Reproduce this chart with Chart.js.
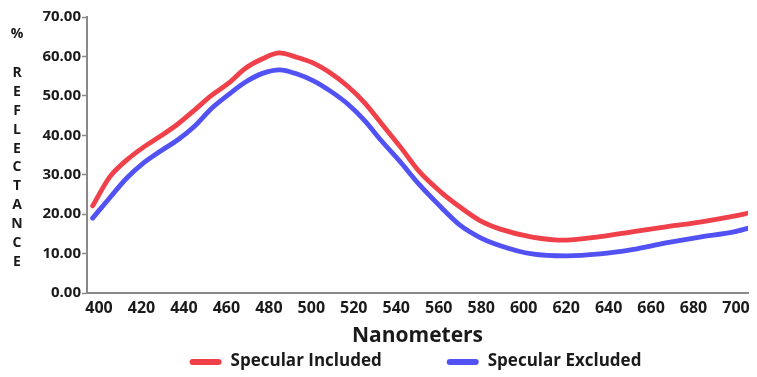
<!DOCTYPE html>
<html>
<head>
<meta charset="utf-8">
<script src="https://cdn.jsdelivr.net/npm/chart.js@4"></script>
<style>
  body { margin: 0; background: #fff; }
  #wrap { width: 757px; height: 377px; position: relative; }
</style>
</head>
<body>
<div id="wrap"><canvas id="myChart"></canvas></div>
<script>
// wavelengths (nm)
var nanometers = [397, 405, 413, 421, 429, 437, 445, 453, 461, 469, 477, 485, 493, 501, 509, 517,
  525, 533, 542, 551, 561, 570, 579, 589, 604, 620, 636, 651, 667, 683, 699, 706];
var specularIncluded = [22.1, 29.4, 33.7, 37.0, 39.8, 42.8, 46.4, 50.1, 53.2, 57.0, 59.4, 60.9, 59.8, 58.3, 55.8, 52.5,
  48.3, 43.0, 37.0, 30.7, 25.6, 21.8, 18.5, 16.2, 14.2, 13.4, 14.3, 15.5, 16.8, 18.0, 19.5, 20.3];
var specularExcluded = [19.0, 24.1, 29.1, 33.0, 36.0, 38.8, 42.3, 46.8, 50.3, 53.5, 55.7, 56.6, 55.6, 53.8, 51.2, 48.0,
  43.8, 38.6, 33.2, 27.4, 21.8, 17.2, 14.2, 12.0, 9.9, 9.4, 9.9, 11.0, 12.7, 14.2, 15.5, 16.5];
var xTicks = [400, 420, 440, 460, 480, 500, 520, 540, 560, 580, 600, 620, 640, 660, 680, 700];
var yTitle = ['%', '', 'R', 'E', 'F', 'L', 'E', 'C', 'T', 'A', 'N', 'C', 'E'];

var FONT = '"Open Sans", "DejaVu Sans", sans-serif';
var RED = '#f0404a';
var BLUE = '#5252f4';

function toPoints(xs, ys) {
  return xs.map(function (x, i) { return { x: x, y: ys[i] }; });
}

// stacked letters on the left + legend under the axis title
var extras = {
  id: 'extras',
  afterDraw: function (chart) {
    var c = chart.ctx;
    c.save();
    c.fillStyle = '#1a1a1a';
    c.textAlign = 'center';
    c.textBaseline = 'middle';
    c.font = 'bold 14px ' + FONT;
    var y = 34;
    yTitle.forEach(function (ch, i) {
      if (i === 0) { c.fillText(ch, 17, y); y = 73; return; }
      if (ch === '') return;
      c.fillText(ch, 17, y);
      y += 18.9;
    });

    // legend
    c.font = 'bold 17px ' + FONT;
    c.textAlign = 'left';
    var sets = chart.data.datasets;
    var sample = 32, gap = 9, itemGap = 65;
    var total = 0;
    sets.forEach(function (ds, i) {
      total += sample + gap + c.measureText(ds.label).width;
      if (i > 0) total += itemGap;
    });
    var area = chart.chartArea;
    var x = (area.left + area.right) / 2 - 2 - total / 2;
    var ly = 362;
    sets.forEach(function (ds) {
      c.strokeStyle = ds.borderColor;
      c.lineWidth = 6;
      c.lineCap = 'round';
      c.beginPath();
      c.moveTo(x + 3, ly);
      c.lineTo(x + sample - 3, ly);
      c.stroke();
      c.fillText(ds.label, x + sample + gap, ly - 1);
      x += sample + gap + c.measureText(ds.label).width + itemGap;
    });
    c.restore();
  }
};

var ctx = document.getElementById('myChart');
var ReflectanceChart = new Chart(ctx, {
  type: 'line',
  data: {
    datasets: [
      {
        label: 'Specular Included',
        data: toPoints(nanometers, specularIncluded),
        borderColor: RED,
        borderWidth: 4.8,
        pointRadius: 0,
        tension: 0.4,
        cubicInterpolationMode: 'monotone',
        borderCapStyle: 'round'
      },
      {
        label: 'Specular Excluded',
        data: toPoints(nanometers, specularExcluded),
        borderColor: BLUE,
        borderWidth: 4.8,
        pointRadius: 0,
        tension: 0.4,
        cubicInterpolationMode: 'monotone',
        borderCapStyle: 'round'
      }
    ]
  },
  options: {
    responsive: true,
    maintainAspectRatio: false,
    animation: false,
    layout: { padding: { top: 17, right: 9, left: 0, bottom: 28 } },
    plugins: {
      legend: { display: false },
      tooltip: { enabled: false }
    },
    scales: {
      x: {
        type: 'linear',
        min: 394.35,
        max: 705.65,
        afterBuildTicks: function (scale) {
          scale.ticks = xTicks.map(function (v) { return { value: v }; });
        },
        afterFit: function (scale) { scale.height = 56; },
        grid: { display: false },
        border: { display: true, color: '#8a8a8a', width: 2 },
        ticks: {
          color: '#1a1a1a',
          font: { family: FONT, size: 16, weight: 'bold' },
          padding: -2,
          maxRotation: 0,
          autoSkip: false,
          callback: function (v) { return String(v); }
        },
        title: {
          display: true,
          text: 'Nanometers',
          color: '#1a1a1a',
          font: { family: FONT, size: 21, weight: 'bold' },
          padding: { top: 0, bottom: 0 }
        }
      },
      y: {
        min: 0,
        max: 70,
        afterFit: function (scale) { scale.width = 87; },
        grid: { display: true, drawOnChartArea: false, tickLength: 5, color: '#8a8a8a', tickWidth: 1.5 },
        border: { display: true, color: '#8a8a8a', width: 2 },
        ticks: {
          stepSize: 10,
          color: '#1a1a1a',
          padding: 1,
          font: { family: FONT, size: 15, weight: 'bold' },
          callback: function (v) { return v.toFixed(2); }
        }
      }
    }
  },
  plugins: [extras]
});
</script>
</body>
</html>
